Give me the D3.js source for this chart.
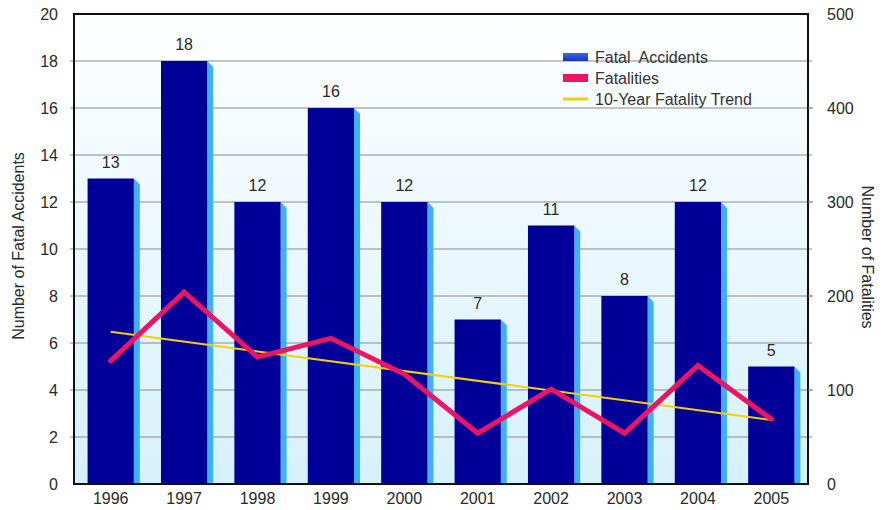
<!DOCTYPE html>
<html>
<head>
<meta charset="utf-8">
<script src="https://cdn.jsdelivr.net/npm/d3@7"></script>
<style>
  html, body { margin: 0; padding: 0; background: #fff; }
  svg { display: block; font-family: "Liberation Sans", Arial, sans-serif; }
</style>
</head>
<body>
<svg id="chart" width="882" height="510"></svg>
<script>
const years = ["1996","1997","1998","1999","2000","2001","2002","2003","2004","2005"];
const accidents = [13, 18, 12, 16, 12, 7, 11, 8, 12, 5];
const fatalities = [131, 204, 135, 155, 117, 54, 101, 54, 126, 69];
const trendYears = ["1996", "2005"];
const trendValues = [162, 68];
const leftTicks = [0, 2, 4, 6, 8, 10, 12, 14, 16, 18, 20];
const rightTicks = [0, 100, 200, 300, 400, 500];
const legendLabels = ["Fatal  Accidents", "Fatalities", "10-Year Fatality Trend"];

const svg = d3.select("#chart");
const m = { left: 74, right: 808, top: 14, bottom: 484 };
const FS = 16;
const TXT = "#2a2a2a";

const x = d3.scaleBand().domain(years).range([m.left, m.right]).paddingInner(0.37).paddingOuter(0.185);
const xc = d => x(d) + x.bandwidth() / 2;
const yL = d3.scaleLinear().domain([0, 20]).range([m.bottom, m.top]);
const yR = d3.scaleLinear().domain([0, 500]).range([m.bottom, m.top]);

const defs = svg.append("defs");
const bg = defs.append("linearGradient").attr("id", "bg").attr("x1", 0).attr("y1", 0).attr("x2", 0).attr("y2", 1);
bg.append("stop").attr("offset", "0%").attr("stop-color", "#ffffff");
bg.append("stop").attr("offset", "100%").attr("stop-color", "#d6f1fb");
const lg = defs.append("linearGradient").attr("id", "lgblue").attr("x1", 0).attr("y1", 0).attr("x2", 0).attr("y2", 1);
lg.append("stop").attr("offset", "0%").attr("stop-color", "#3a6cf0");
lg.append("stop").attr("offset", "100%").attr("stop-color", "#1533b8");

svg.append("rect").attr("x", m.left).attr("y", m.top)
  .attr("width", m.right - m.left).attr("height", m.bottom - m.top).attr("fill", "url(#bg)");

// gridlines (left axis) with small outer ticks
svg.append("g").selectAll("line").data(leftTicks.filter(t => t > 0 && t < 20)).join("line")
  .attr("x1", m.left - 4).attr("x2", m.right + 4)
  .attr("y1", d => yL(d)).attr("y2", d => yL(d))
  .attr("stroke", "#8a8a8a").attr("stroke-width", 1);

// bars
const depth = 6;
const barG = svg.append("g");
years.forEach((yr, i) => {
  const x0 = x(yr), w = x.bandwidth(), top = yL(accidents[i]), bot = yL(0);
  barG.append("path")
    .attr("d", `M${x0 + w},${top} L${x0 + w + depth},${top + depth} L${x0 + w + depth},${bot} L${x0 + w},${bot} Z`)
    .attr("fill", "#3fb0f5");
  barG.append("rect").attr("x", x0).attr("y", top).attr("width", w).attr("height", bot - top)
    .attr("fill", "#000099");
  barG.append("text").attr("x", xc(yr)).attr("y", top - 11)
    .attr("text-anchor", "middle").attr("font-size", FS).attr("fill", TXT).text(accidents[i]);
});

// trend line
svg.append("path")
  .datum(trendYears.map((yr, i) => [xc(yr), yR(trendValues[i])]))
  .attr("d", d3.line()).attr("fill", "none").attr("stroke", "#f5cf0a").attr("stroke-width", 2);

// fatalities line
svg.append("path")
  .datum(years.map((yr, i) => [xc(yr), yR(fatalities[i])]))
  .attr("d", d3.line()).attr("fill", "none").attr("stroke", "#ee1463")
  .attr("stroke-width", 5).attr("stroke-linejoin", "miter").attr("stroke-linecap", "round");

// border
svg.append("rect").attr("x", m.left).attr("y", m.top)
  .attr("width", m.right - m.left).attr("height", m.bottom - m.top)
  .attr("fill", "none").attr("stroke", "#111").attr("stroke-width", 2);

// left axis labels
svg.append("g").selectAll("text").data(leftTicks).join("text")
  .attr("x", 58).attr("y", d => yL(d) + 6).attr("text-anchor", "end")
  .attr("font-size", FS).attr("fill", TXT).text(d => d);

// right axis
svg.append("g").selectAll("line").data(rightTicks.filter(t => t > 0 && t < 500)).join("line")
  .attr("x1", m.right).attr("x2", m.right + 5)
  .attr("y1", d => yR(d)).attr("y2", d => yR(d)).attr("stroke", "#8a8a8a");
svg.append("g").selectAll("text").data(rightTicks).join("text")
  .attr("x", 827).attr("y", d => yR(d) + 6).attr("text-anchor", "start")
  .attr("font-size", FS).attr("fill", TXT).text(d => d);

// x labels
svg.append("g").selectAll("text").data(years).join("text")
  .attr("x", d => xc(d)).attr("y", 504).attr("text-anchor", "middle")
  .attr("font-size", FS).attr("fill", TXT).text(d => d);

// axis titles
svg.append("text").attr("transform", "translate(24,246) rotate(-90)")
  .attr("text-anchor", "middle").attr("font-size", FS).attr("fill", TXT).text("Number of Fatal Accidents");
svg.append("text").attr("transform", "translate(862,257) rotate(90)")
  .attr("text-anchor", "middle").attr("font-size", FS).attr("fill", TXT).text("Number of Fatalities");

// legend
const lgG = svg.append("g");
const ly = [57, 78, 99];
lgG.append("rect").attr("x", 563).attr("y", ly[0] - 4).attr("width", 25).attr("height", 8).attr("fill", "url(#lgblue)");
lgG.append("rect").attr("x", 563).attr("y", ly[1] - 4).attr("width", 25).attr("height", 8).attr("fill", "#ee1463");
lgG.append("rect").attr("x", 563).attr("y", ly[2] - 1.5).attr("width", 25).attr("height", 3).attr("fill", "#f5cf0a");
lgG.selectAll("text").data(legendLabels).join("text")
  .attr("x", 595).attr("y", (d, i) => ly[i] + 6).attr("font-size", FS).attr("fill", "#333")
  .attr("xml:space", "preserve").style("white-space", "pre").text(d => d);
</script>
</body>
</html>
